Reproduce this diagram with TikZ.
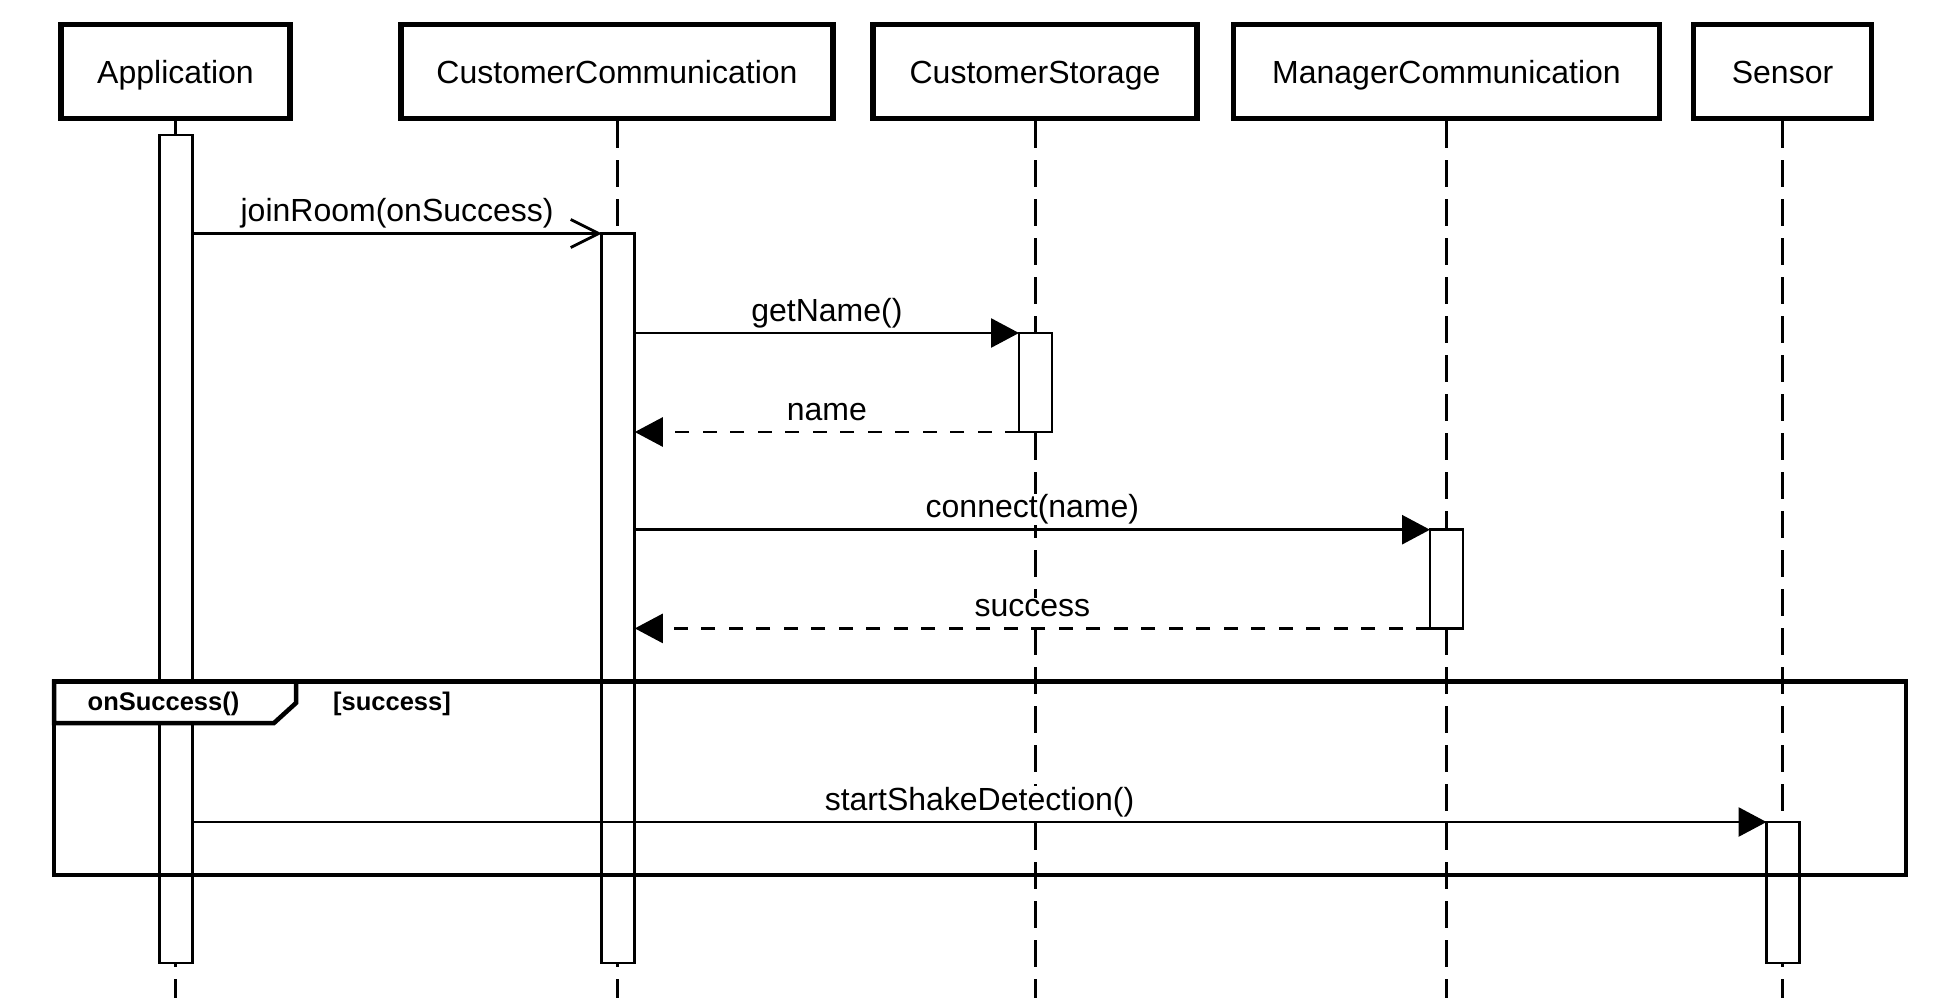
\documentclass[tikz,border=0pt]{standalone}
\usepackage{fontspec}
\setmainfont{Liberation Sans}
\usetikzlibrary{arrows.meta}

\begin{document}
\begin{tikzpicture}[x=1pt,y=-1pt,
  lifebox/.style={draw,line width=5.5pt,minimum height=93.5pt,inner sep=0pt,
    font=\fontsize{32}{38}\selectfont,text height=23pt,text depth=0pt},
  act/.style={draw,fill=white,line width=2.8pt,minimum width=33pt,inner sep=0pt,outer sep=0pt,anchor=north},
  lifeline/.style={line width=3pt,dash pattern=on 27pt off 12pt},
  msg/.style={line width=2.8pt,-{Triangle[length=28pt,width=29pt]}},
  reply/.style={msg,dash pattern=on 14pt off 13.5pt},
  call/.style={line width=2.8pt,-{Straight Barb[length=28pt,width=28pt,line width=2.8pt]}},
  lbl/.style={anchor=base,yshift=12pt,inner sep=1pt,fill=white,font=\fontsize{32}{38}\selectfont},
  framelbl/.style={anchor=base,inner sep=0pt,font=\bfseries\fontsize{25.5}{30}\selectfont}]
  \useasboundingbox (0,0) rectangle (1959,998);
  \coordinate (bottom) at (0,1000);

  % participants
  \node[lifebox,minimum width=229pt] (app) at (175.5,71.5) {Application};
  \node[lifebox,minimum width=432pt] (cc) at (617,71.5) {CustomerCommunication};
  \node[lifebox,minimum width=324pt] (cs) at (1035,71.5) {CustomerStorage};
  \node[lifebox,minimum width=426pt] (mc) at (1446.5,71.5) {ManagerCommunication};
  \node[lifebox,minimum width=178pt] (sn) at (1782.5,71.5) {Sensor};

  \foreach \p in {app,cc,cs,mc,sn}
    \draw[lifeline] (\p.south) -- (\p.south |- bottom);

  % activations
  \node[act,minimum height=828pt] (appAct) at (176,135) {};
  \node[act,minimum height=729.5pt] (ccAct) at (618.3,233.5) {};
  \node[act,minimum height=99pt] (csAct) at (1035.5,333) {};
  \node[act,minimum height=98.7pt] (mcAct) at (1446.5,529.7) {};
  \node[act,minimum height=141pt] (snAct) at (1783,822) {};

  % messages
  \draw[call] (appAct.east |- ccAct.north) -- (ccAct.north west)
    node[lbl,midway] (lJoin) {joinRoom(onSuccess)};
  \draw[msg] (ccAct.east |- csAct.north) -- (csAct.north west)
    node[lbl,midway] (lGet) {getName()};
  \draw[reply] (csAct.south west) -- (ccAct.east |- csAct.south)
    node[lbl,midway] (lName) {name};
  \draw[msg] (ccAct.east |- mcAct.north) -- (mcAct.north west)
    node[lbl,midway] (lConnect) {connect(name)};
  \draw[reply] (mcAct.south west) -- (ccAct.east |- mcAct.south)
    node[lbl,midway] (lSuccess) {success};
  \draw[msg] (appAct.east |- snAct.north) -- (snAct.north west)
    node[lbl,midway] (lShake) {startShakeDetection()};

  % frame
  \node[draw,line width=4.5pt,minimum width=1852pt,minimum height=193.5pt,
    inner sep=0pt,outer sep=0pt,anchor=north west] (opt) at (54,681.5) {};
  \filldraw[fill=white,line width=4.5pt] (opt.north west) -- ++(242,0) -- ++(0,21.5)
    -- ++(-22,20) -- ++(-220,0) -- cycle;
  \node[framelbl] (fName) at (163.5,710.5) {onSuccess()};
  \node[framelbl,anchor=base west] (fGuard) at (333,710.5) {[success]};
\end{tikzpicture}
\end{document}
